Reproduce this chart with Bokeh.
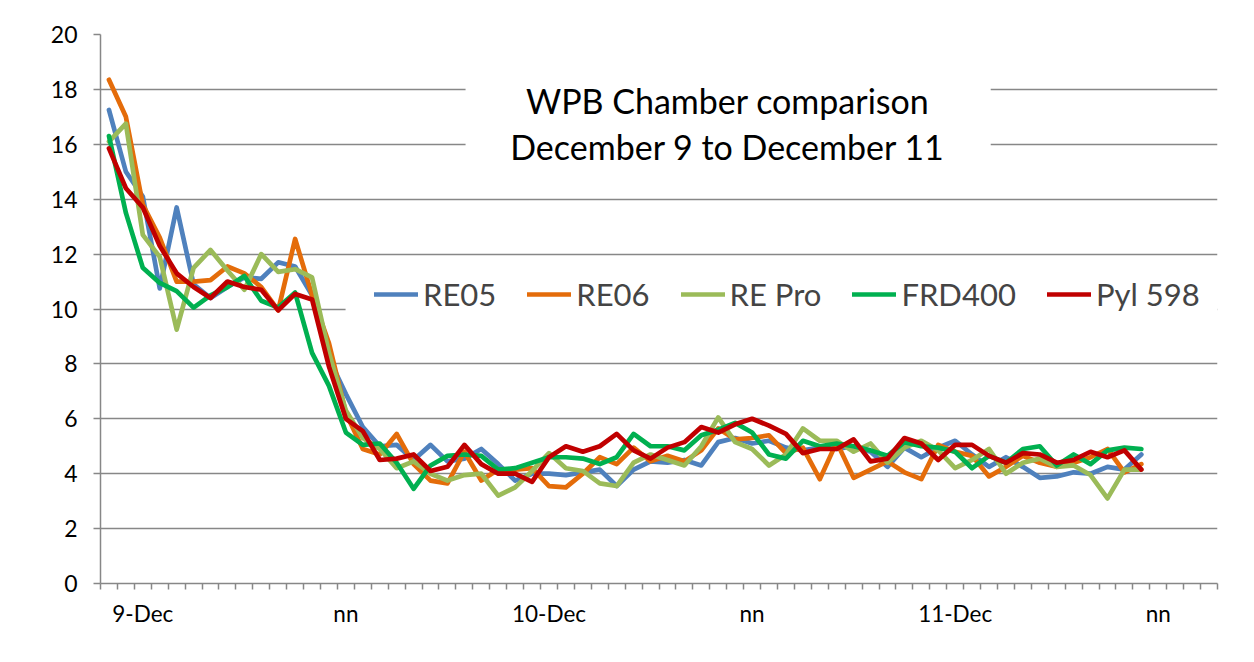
from bokeh.plotting import figure
from bokeh.models import Range1d, FixedTicker, Legend, LegendItem, Label, BoxAnnotation
from bokeh.embed import file_html
from bokeh.resources import INLINE

# ---------------- data ----------------
x_labels = ["9-Dec", "nn", "10-Dec", "nn", "11-Dec", "nn"]
label_cats = [2, 14, 26, 38, 50, 62]
n_cats = 66

re05 = [17.25, 15.0, 14.1, 10.75, 13.7, 10.9, 10.4, 10.8, 11.15, 11.1, 11.7, 11.55, 10.5, 8.2, 6.9, 5.7,
        5.0, 5.05, 4.5, 5.05, 4.45, 4.55, 4.9, 4.35, 3.75, 4.0, 4.0, 3.95, 4.05, 4.15, 3.55, 4.15,
        4.45, 4.4, 4.5, 4.3, 5.15, 5.3, 5.1, 5.2, 4.95, 4.85, 4.95, 4.9, 5.0, 4.8, 4.25, 4.95,
        4.6, 4.95, 5.2, 4.7, 4.25, 4.6, 4.25, 3.85, 3.9, 4.05, 4.0, 4.25, 4.15, 4.7]
re06 = [18.35, 17.0, 13.8, 12.6, 11.0, 11.0, 11.05, 11.55, 11.3, 10.8, 9.95, 12.55, 10.5, 8.75, 6.2, 4.9,
        4.7, 5.45, 4.35, 3.75, 3.65, 4.8, 3.75, 4.15, 4.15, 4.2, 3.55, 3.5, 4.0, 4.6, 4.35, 4.95,
        4.45, 4.65, 4.45, 4.85, 5.65, 5.25, 5.3, 5.4, 4.75, 4.95, 3.8, 5.15, 3.85, 4.15, 4.45, 4.05,
        3.8, 5.05, 4.8, 4.65, 3.9, 4.25, 4.65, 4.4, 4.25, 4.4, 4.6, 4.9, 4.05, 4.35]
re_pro = [16.1, 16.75, 12.7, 11.9, 9.25, 11.5, 12.15, 11.4, 10.7, 12.0, 11.35, 11.45, 11.15, 8.4, 6.3, 5.3,
          4.9, 4.2, 4.45, 4.0, 3.75, 3.95, 4.0, 3.2, 3.5, 4.1, 4.75, 4.2, 4.1, 3.65, 3.55, 4.4,
          4.7, 4.5, 4.3, 5.0, 6.05, 5.15, 4.9, 4.3, 4.7, 5.65, 5.2, 5.2, 4.8, 5.1, 4.4, 4.95,
          5.2, 4.85, 4.2, 4.5, 4.9, 4.0, 4.4, 4.55, 4.25, 4.3, 3.95, 3.1, 4.15, 4.15]
frd400 = [16.3, 13.5, 11.5, 10.95, 10.65, 10.05, 10.5, 10.8, 11.2, 10.3, 10.05, 10.6, 8.4, 7.2, 5.5, 5.05,
          5.1, 4.4, 3.45, 4.3, 4.65, 4.7, 4.65, 4.15, 4.2, 4.4, 4.6, 4.6, 4.55, 4.35, 4.6, 5.45,
          5.0, 5.0, 4.85, 5.4, 5.6, 5.85, 5.5, 4.7, 4.55, 5.2, 5.0, 5.1, 5.0, 4.85, 4.65, 5.15,
          5.0, 4.95, 4.8, 4.2, 4.65, 4.4, 4.9, 5.0, 4.3, 4.7, 4.35, 4.85, 4.95, 4.9]
pyl598 = [15.85, 14.4, 13.7, 12.3, 11.3, 10.8, 10.4, 11.0, 10.8, 10.7, 9.95, 10.55, 10.35, 7.9, 6.0, 5.55,
          4.5, 4.55, 4.7, 4.1, 4.25, 5.05, 4.35, 4.0, 4.0, 3.7, 4.6, 5.0, 4.8, 5.0, 5.45, 4.85,
          4.55, 4.95, 5.15, 5.7, 5.5, 5.8, 6.0, 5.75, 5.45, 4.75, 4.9, 4.9, 5.25, 4.45, 4.55, 5.3,
          5.1, 4.5, 5.05, 5.05, 4.65, 4.4, 4.75, 4.7, 4.4, 4.5, 4.8, 4.6, 4.85, 4.15]

series_names = ["RE05", "RE06", "RE Pro", "FRD400", "Pyl 598"]
series_values = [re05, re06, re_pro, frd400, pyl598]
series_colors = ["#4F81BD", "#E46C0A", "#9BBB59", "#00B050", "#C00000"]

title_lines = ["WPB Chamber comparison", "December 9 to December 11"]

FONT = "Lato"
GRID = "#878787"

p = figure(width=1254, height=662, output_backend="svg", toolbar_location=None,
           x_range=Range1d(-0.5, n_cats - 0.5), y_range=Range1d(0, 20),
           min_border_left=100, min_border_right=37, min_border_top=34, min_border_bottom=79)
p.outline_line_color = None
p.background_fill_color = "white"
p.border_fill_color = "white"

# axes
p.xaxis.ticker = FixedTicker(ticks=label_cats, minor_ticks=[k - 0.5 for k in range(n_cats + 1)])
p.xaxis.major_label_overrides = {c: t for c, t in zip(label_cats, x_labels)}
p.xaxis.major_tick_line_color = None
p.xaxis.major_tick_out = 0
p.xaxis.major_tick_in = 0
p.xaxis.minor_tick_in = 0
p.xaxis.minor_tick_out = 6
p.xaxis.minor_tick_line_color = GRID
p.xaxis.minor_tick_line_width = 1.5
p.xaxis.axis_line_color = GRID
p.xaxis.axis_line_width = 1.5
p.xaxis.major_label_standoff = 10

p.yaxis.ticker = FixedTicker(ticks=list(range(0, 21, 2)))
p.yaxis.major_tick_out = 7
p.yaxis.major_tick_in = 0
p.yaxis.minor_tick_line_color = None
p.yaxis.major_tick_line_color = GRID
p.yaxis.major_tick_line_width = 1.5
p.yaxis.axis_line_color = GRID
p.yaxis.axis_line_width = 1.5
p.yaxis.major_label_standoff = 16

p.xaxis.major_label_text_font_size = "22.5px"
p.yaxis.major_label_text_font_size = "23px"
for ax in (p.xaxis, p.yaxis):
    ax.major_label_text_font = FONT
    ax.major_label_text_color = "black"

p.xgrid.grid_line_color = None
p.ygrid.ticker = FixedTicker(ticks=list(range(2, 21, 2)))
p.ygrid.grid_line_color = GRID
p.ygrid.grid_line_width = 1.5

xs = list(range(len(re05)))
items = []
for name, vals, col in zip(series_names, series_values, series_colors):
    r = p.line(xs, vals, line_color=col, line_width=4.7, line_join="round", line_cap="round")
    items.append(LegendItem(label=name, renderers=[r]))

# white boxes behind title and legend (hide gridlines there)
p.add_layout(BoxAnnotation(left=21.07, right=52.1, bottom=15.0, top=19.1,
                           fill_color="white", fill_alpha=1, line_color=None))
p.add_layout(BoxAnnotation(left=13.98, right=n_cats - 0.5, bottom=9.5, top=11.5,
                           fill_color="white", fill_alpha=1, line_color=None))

legend = Legend(items=items, orientation="horizontal", location=(274, 270),
                label_text_font=FONT, label_text_font_size="31px",
                glyph_width=44, glyph_height=28, label_standoff=5, spacing=31,
                padding=6, margin=0, border_line_color=None,
                background_fill_color="white", background_fill_alpha=1)
p.add_layout(legend)

for i, t in enumerate(title_lines):
    p.add_layout(Label(x=36.56, y=17.59 - i * 1.675, text=t,
                       text_align="center", text_baseline="middle",
                       text_font=FONT, text_font_size="34px", text_color="black"))

open("out.html", "w").write(file_html(p, INLINE))
